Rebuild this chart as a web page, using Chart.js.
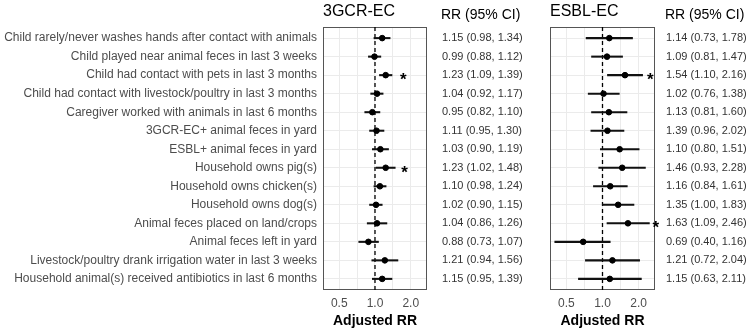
<!DOCTYPE html>
<html lang="en">
<head>
  <meta charset="UTF-8">
  <title>Adjusted RR: 3GCR-EC and ESBL-EC</title>
  <script src="https://cdn.jsdelivr.net/npm/chart.js"></script>
  <style>
    body { margin: 0; background: #fff; }
    #wrap { position: relative; width: 750px; height: 333px; }
    canvas { position: absolute; top: 0; }
    #gcr { left: 0; }
    #esbl { left: 545px; }
  </style>
</head>
<body>
  <div id="wrap">
    <canvas id="gcr" width="545" height="333"></canvas>
    <canvas id="esbl" width="205" height="333"></canvas>
  </div>

  <script>
    // Row labels (top to bottom)
    const rowLabels = [
      'Child rarely/never washes hands after contact with animals',
      'Child played near animal feces in last 3 weeks',
      'Child had contact with pets in last 3 months',
      'Child had contact with livestock/poultry in last 3 months',
      'Caregiver worked with animals in last 6 months',
      '3GCR-EC+ animal feces in yard',
      'ESBL+ animal feces in yard',
      'Household owns pig(s)',
      'Household owns chicken(s)',
      'Household owns dog(s)',
      'Animal feces placed on land/crops',
      'Animal feces left in yard',
      'Livestock/poultry drank irrigation water in last 3 weeks',
      'Household animal(s) received antibiotics in last 6 months'
    ];

    // 3GCR-EC: plotted estimates (as drawn) and printed column
    const gcrRR = [1.15, 0.99, 1.23, 1.04, 0.95, 1.03, 1.11, 1.23, 1.10, 1.02, 1.04, 0.88, 1.21, 1.15];
    const gcrLo = [0.98, 0.88, 1.09, 0.92, 0.82, 0.90, 0.95, 1.02, 0.98, 0.90, 0.86, 0.73, 0.94, 0.95];
    const gcrHi = [1.34, 1.12, 1.39, 1.17, 1.10, 1.19, 1.30, 1.48, 1.24, 1.15, 1.26, 1.07, 1.56, 1.39];
    const gcrText = [
      '1.15 (0.98, 1.34)', '0.99 (0.88, 1.12)', '1.23 (1.09, 1.39)', '1.04 (0.92, 1.17)',
      '0.95 (0.82, 1.10)', '1.11 (0.95, 1.30)', '1.03 (0.90, 1.19)', '1.23 (1.02, 1.48)',
      '1.10 (0.98, 1.24)', '1.02 (0.90, 1.15)', '1.04 (0.86, 1.26)', '0.88 (0.73, 1.07)',
      '1.21 (0.94, 1.56)', '1.15 (0.95, 1.39)'
    ];
    const gcrStarRow = [3, 8];
    const gcrStarX = [1.73, 1.77];

    // ESBL-EC
    const esblRR = [1.14, 1.09, 1.54, 1.02, 1.13, 1.10, 1.39, 1.46, 1.16, 1.35, 1.63, 0.69, 1.21, 1.15];
    const esblLo = [0.73, 0.81, 1.10, 0.76, 0.81, 0.80, 0.96, 0.93, 0.84, 1.00, 1.09, 0.40, 0.72, 0.63];
    const esblHi = [1.78, 1.47, 2.16, 1.38, 1.60, 1.51, 2.02, 2.28, 1.61, 1.83, 2.46, 1.16, 2.04, 2.11];
    const esblText = [
      '1.14 (0.73, 1.78)', '1.09 (0.81, 1.47)', '1.54 (1.10, 2.16)', '1.02 (0.76, 1.38)',
      '1.13 (0.81, 1.60)', '1.39 (0.96, 2.02)', '1.10 (0.80, 1.51)', '1.46 (0.93, 2.28)',
      '1.16 (0.84, 1.61)', '1.35 (1.00, 1.83)', '1.63 (1.09, 2.46)', '0.69 (0.40, 1.16)',
      '1.21 (0.72, 2.04)', '1.15 (0.63, 2.11)'
    ];
    const esblStarRow = [3, 11];
    const esblStarX = [2.5, 2.78];

    // x axis (log scale)
    const xTicks = [0.5, 0.707, 1, 1.414, 2];
    const xLabelled = [0.5, 1, 2];
    const xMin = 0.365;
    const xMax = 2.74;
    const yMin = 0.4;
    const yMax = 14.6;

    Chart.defaults.font.family = "'Liberation Sans', Arial, sans-serif";

    // box around panel + titles above it
    const panelText = {
      id: 'panelText',
      beforeDatasetsDraw(chart) {
        const a = chart.chartArea;
        const ctx = chart.ctx;
        ctx.save();
        ctx.strokeStyle = '#555';
        ctx.lineWidth = 1;
        ctx.strokeRect(Math.round(a.left) + 0.5, Math.round(a.top) + 0.5,
          Math.round(a.right - a.left) - 1, Math.round(a.bottom - a.top) - 1);
        ctx.restore();
      },
      afterDraw(chart, args, opts) {
        const a = chart.chartArea;
        const ctx = chart.ctx;
        ctx.save();
        ctx.fillStyle = '#000';
        ctx.textBaseline = 'middle';
        ctx.textAlign = 'left';
        ctx.font = "16px 'Liberation Sans', Arial, sans-serif";
        ctx.fillText(opts.title, a.left, 12);
        ctx.font = "14px 'Liberation Sans', Arial, sans-serif";
        ctx.fillText('RR (95% CI)', a.right + opts.gap - 1, 15);
        ctx.restore();
      }
    };

    // significance asterisks at the points of the "stars" dataset
    const stars = {
      id: 'stars',
      afterDatasetsDraw(chart) {
        const meta = chart.getDatasetMeta(0);
        const ctx = chart.ctx;
        ctx.save();
        ctx.fillStyle = '#000';
        ctx.textAlign = 'center';
        ctx.textBaseline = 'alphabetic';
        ctx.font = "bold 17px 'Liberation Sans', Arial, sans-serif";
        meta.data.forEach(p => ctx.fillText('*', p.x, p.y + 10));
        ctx.restore();
      }
    };

    // y axes: no label padding at the ends, fixed width
    function fitY(width) {
      return s => {
        s.width = width;
        s.paddingTop = 0;
        s.paddingBottom = 0;
      };
    }

    function makePanel(id, title, rr, lo, hi, text, starRow, starX, leftWidth, rightWidth, showLabels, gap) {
      return new Chart(document.getElementById(id), {
        type: 'scatter',
        data: {
          datasets: [
            {
              label: 'stars',
              data: starRow.map((r, i) => ({ x: starX[i], y: r })),
              pointRadius: 0
            },
            {
              label: 'RR',
              data: rr.map((v, i) => ({ x: v, y: i + 1 })),
              pointRadius: 2.8,
              backgroundColor: '#000',
              borderColor: '#000'
            },
            {
              type: 'bar',
              label: '95% CI',
              indexAxis: 'y',
              data: lo.map((v, i) => ({ x: [v, hi[i]], y: i + 1 })),
              backgroundColor: '#111',
              barThickness: 1.4
            },
            {
              type: 'line',
              label: 'RR = 1',
              data: [{ x: 1, y: yMin }, { x: 1, y: yMax }],
              borderColor: '#000',
              borderWidth: 1.3,
              borderDash: [4, 3],
              pointRadius: 0
            }
          ]
        },
        options: {
          responsive: false,
          animation: false,
          layout: { padding: { top: 27, left: 0, right: 0, bottom: 0 } },
          plugins: {
            legend: { display: false },
            tooltip: { enabled: false },
            panelText: { title: title, gap: gap }
          },
          scales: {
            x: {
              type: 'logarithmic',
              min: xMin,
              max: xMax,
              offset: false,
              beginAtZero: false,
              afterBuildTicks: s => { s.ticks = xTicks.map(v => ({ value: v })); },
              afterFit: s => { s.height = 43; },
              ticks: {
                autoSkip: false,
                maxRotation: 0,
                padding: 6,
                color: '#4d4d4d',
                font: { size: 12 },
                callback: v => xLabelled.includes(v) ? v.toFixed(1) : ''
              },
              grid: { color: '#ebebeb', drawTicks: false, offset: false },
              border: { display: false },
              title: {
                display: true,
                text: 'Adjusted RR',
                color: '#000',
                font: { size: 14, weight: 'bold' },
                padding: { top: 0, bottom: 3 }
              }
            },
            y: {
              type: 'linear',
              position: 'left',
              reverse: true,
              min: yMin,
              max: yMax,
              offset: false,
              afterBuildTicks: s => { s.ticks = rowLabels.map((_, i) => ({ value: i + 1 })); },
              afterFit: fitY(leftWidth),
              ticks: {
                display: showLabels,
                autoSkip: false,
                padding: 6,
                color: '#4d4d4d',
                font: { size: 12 },
                callback: v => rowLabels[v - 1]
              },
              grid: { color: '#ebebeb', drawTicks: false, offset: false },
              border: { display: false }
            },
            y2: {
              type: 'linear',
              position: 'right',
              reverse: true,
              min: yMin,
              max: yMax,
              offset: false,
              afterBuildTicks: s => { s.ticks = text.map((_, i) => ({ value: i + 1 })); },
              afterFit: fitY(rightWidth),
              ticks: {
                autoSkip: false,
                padding: gap,
                color: '#333',
                font: { size: 11, family: "'Liberation Sans Narrow', 'Liberation Sans', Arial, sans-serif" },
                callback: v => text[v - 1]
              },
              grid: { display: false, drawTicks: false },
              border: { display: false }
            }
          }
        },
        plugins: [panelText, stars]
      });
    }

    makePanel('gcr', '3GCR-EC', gcrRR, gcrLo, gcrHi, gcrText, gcrStarRow, gcrStarX, 323, 118, true, 15);
    makePanel('esbl', 'ESBL-EC', esblRR, esblLo, esblHi, esblText, esblStarRow, esblStarX, 5, 95, false, 11);
  </script>
</body>
</html>
